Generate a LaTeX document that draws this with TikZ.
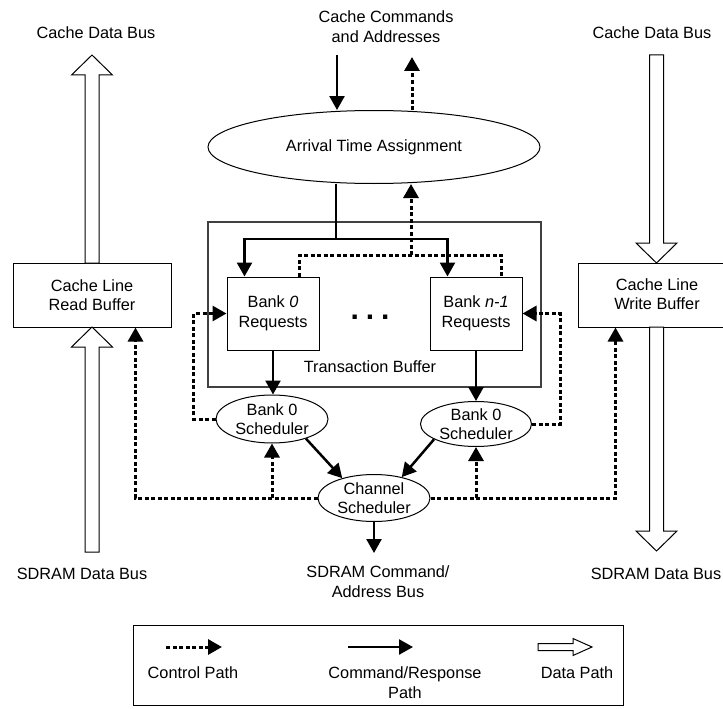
\documentclass[tikz,border=0pt]{standalone}
\usepackage{fontspec}
\setmainfont{Liberation Sans}
\usetikzlibrary{arrows.meta,shapes.geometric,calc}
\begin{document}
\begin{tikzpicture}[x=1pt,y=-1pt,
 every node/.style={font=\fontsize{16.3}{19.5}\selectfont, align=center, inner sep=0pt},
 box/.style={draw, line width=1pt, rectangle},
 oval/.style={draw, line width=1pt, ellipse},
 cmd/.style={line width=2.5pt, -{Triangle[length=14pt,width=15pt]}},
 ctlline/.style={line width=3pt, dash pattern=on 4pt off 2.5pt},
 ctl/.style={ctlline, -{Triangle[length=14pt,width=15pt]}},
 hollow/.style={draw, line width=1pt, fill=white, line join=miter},
]
\useasboundingbox (0,0) rectangle (723,709);

% labels
\node (cdbl) at (96,33) {Cache Data Bus};
\node (cdbr) at (652,33) {Cache Data Bus};
\node (cca) at (386,26.5) {Cache Commands\\and Addresses};
\node (sdbl) at (82,574) {SDRAM Data Bus};
\node (sdbr) at (656,574) {SDRAM Data Bus};
\node (sca) at (378,581.5) {SDRAM Command/\\Address Bus};

% transaction buffer
\node[draw=black!75, line width=1.2pt, minimum width=333, minimum height=165] (tb) at (374.5,304.5) {};
\node (tbt) at (370,367) {Transaction Buffer};

% boxes
\node[box, minimum width=158, minimum height=64] (rb) at (92,295) {Cache Line\\Read Buffer};
\node[box, minimum width=145, minimum height=64] (wb) at (650.5,295) {};
\node (wbt) at (657,294) {Cache Line\\Write Buffer};
\node[box, minimum width=92, minimum height=73] (b0) at (273,313.5) {Bank \textit{0}\\Requests};
\node[box, minimum width=92, minimum height=73] (bn) at (476,313.5) {Bank \textit{n-1}\\Requests};
\node (dots) at (370,317) {\fontsize{30}{30}\selectfont\bfseries .\hspace{7pt}.\hspace{7pt}.};

% ellipses
\node[oval, minimum width=332, minimum height=73] (ata) at (374,147) {Arrival Time Assignment};
\node[oval, minimum width=112, minimum height=48] (s0) at (272,419) {Bank 0\\Scheduler};
\node[oval, minimum width=111, minimum height=45] (sn) at (476,424) {Bank 0\\Scheduler};
\node[oval, minimum width=112, minimum height=47] (cs) at (374,498) {Channel\\Scheduler};

% coordinates
\coordinate (cin) at (337,55);
\coordinate (cout) at (412,57);
\coordinate (j1) at (336,239);
\coordinate (j2) at (411,255);
\coordinate (sout) at (374,553);

% command paths
\draw[cmd] (cin) -- (cin |- ata.north);
\draw[cmd] (j1 |- ata.south) -- (j1) -| ([xshift=18pt]b0.north west);
\draw[cmd] (j1) -| ([xshift=18pt]bn.north west);
\draw[cmd] (b0.south) -- (b0.south |- s0.north);
\draw[cmd] (bn.south) -- (sn.north);
\draw[cmd] (s0.-30) -- (cs.148);
\draw[cmd] (sn.200) -- (cs.37);
\draw[cmd] (cs.south) -- (sout);

% control paths
\draw[ctl] (cout |- ata.north) -- (cout);
\draw[ctlline] ([xshift=-20pt]b0.north east) |- (j2) -| ([xshift=-21pt]bn.north east);
\draw[ctl] (j2) -- (j2 |- ata.south);
\draw[ctl] (s0.west) -- ++(-22,0) |- (b0.west);
\draw[ctl] (sn.east) -- ++(28,0) |- (bn.east);
\draw[ctl] (cs.west) -| ([xshift=-36pt]rb.south east);
\draw[ctl] (cs.east) -| ([xshift=38pt]wb.south west);
\draw[ctl] (s0.south |- cs.west) -- (s0.south);
\draw[ctl] (sn.south |- cs.east) -- (sn.south);

% data paths (hollow arrows)
\draw[hollow] (85,263) -- (85,75) -- (71.5,75) -- (92,55) -- (112.5,75) -- (99,75) -- (99,263) -- cycle;
\draw[hollow] (85,552) -- (85,347) -- (71.5,347) -- (92,327) -- (112.5,347) -- (99,347) -- (99,552) -- cycle;
\draw[hollow] (649.5,55) -- (649.5,243) -- (636,243) -- (656.5,263) -- (677,243) -- (663.5,243) -- (663.5,55) -- cycle;
\draw[hollow] (649.5,327) -- (649.5,531) -- (636,531) -- (656.5,551) -- (677,531) -- (663.5,531) -- (663.5,327) -- cycle;

% legend
\node[box, minimum width=490, minimum height=80] (leg) at (378,665) {};
\coordinate (l1a) at (166,647); \coordinate (l1b) at (222,647);
\coordinate (l2a) at (348,647); \coordinate (l2b) at (413,647);
\draw[ctl] (l1a) -- (l1b);
\draw[cmd] (l2a) -- (l2b);
\draw[hollow] (538,643.5) -- (573,643.5) -- (573,638.5) -- (592,647) -- (573,655.5) -- (573,650.5) -- (538,650.5) -- cycle;
\node (lt1) at (193,673) {Control Path};
\node (lt2) at (405,682.5) {Command/Response\\Path};
\node (lt3) at (577,673) {Data Path};
\end{tikzpicture}
\end{document}
